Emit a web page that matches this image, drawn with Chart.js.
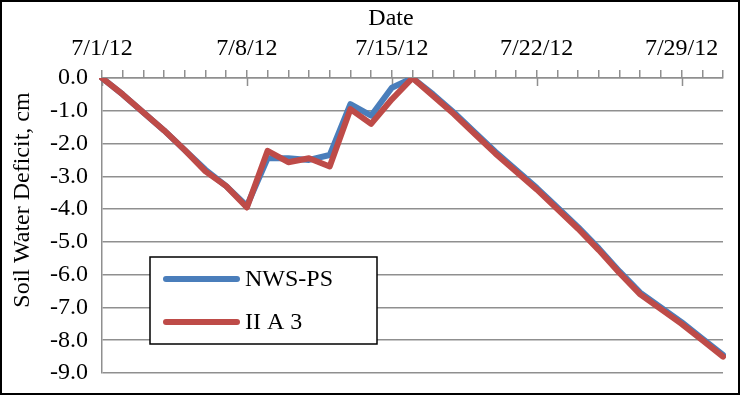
<!DOCTYPE html>
<html>
<head>
<meta charset="utf-8">
<script src="https://cdn.jsdelivr.net/npm/chart.js@4/dist/chart.umd.min.js"></script>
<style>
  html, body { margin: 0; padding: 0; background: #fff; }
  #wrap { width: 740px; height: 395px; position: relative; }
</style>
</head>
<body>
<div id="wrap"><canvas id="c" width="740" height="395"></canvas></div>
<script>
// ---- data ----
const dates = ['7/1/12','7/2/12','7/3/12','7/4/12','7/5/12','7/6/12','7/7/12','7/8/12','7/9/12','7/10/12',
  '7/11/12','7/12/12','7/13/12','7/14/12','7/15/12','7/16/12','7/17/12','7/18/12','7/19/12','7/20/12',
  '7/21/12','7/22/12','7/23/12','7/24/12','7/25/12','7/26/12','7/27/12','7/28/12','7/29/12','7/30/12','7/31/12'];
const labeledDates = ['7/1/12','7/8/12','7/15/12','7/22/12','7/29/12'];
const nwsPs = [0.0,-0.5,-1.05,-1.6,-2.2,-2.8,-3.3,-3.9,-2.45,-2.45,
  -2.5,-2.35,-0.8,-1.15,-0.3,0.0,-0.5,-1.05,-1.65,-2.25,
  -2.8,-3.35,-3.95,-4.55,-5.2,-5.9,-6.55,-7.0,-7.45,-7.95,-8.45];
const iiA3 = [0.0,-0.5,-1.05,-1.6,-2.2,-2.85,-3.3,-3.95,-2.22,-2.57,
  -2.45,-2.7,-0.95,-1.4,-0.65,0.0,-0.55,-1.1,-1.7,-2.3,
  -2.85,-3.4,-4.0,-4.6,-5.25,-5.95,-6.6,-7.05,-7.5,-8.0,-8.5];
const seriesNames = ['NWS-PS','II A 3'];
const xTitle = 'Date';
const yTitle = 'Soil Water Deficit, cm';

const FONT = '"Liberation Serif", "Times New Roman", serif';
const GRID = '#8f8f8f';

const decor = {
  id: 'decor',
  beforeDatasetsDraw(chart) {
    const ctx = chart.ctx, x = chart.scales.x, area = chart.chartArea;
    ctx.save();
    ctx.strokeStyle = GRID;
    ctx.lineWidth = 1.5;
    dates.forEach((d, i) => {
      if (labeledDates.includes(d)) {
        const px = Math.round(x.getPixelForValue(i)) + 0.5;
        ctx.beginPath();
        ctx.moveTo(px, area.top);
        ctx.lineTo(px, area.top + 8);
        ctx.stroke();
      }
    });
    ctx.restore();
  },
  afterDraw(chart) {
    const ctx = chart.ctx;
    ctx.save();
    // axis titles
    ctx.fillStyle = '#000';
    ctx.font = '24px ' + FONT;
    ctx.textAlign = 'center';
    ctx.textBaseline = 'middle';
    ctx.fillText(xTitle, 391, 19);
    ctx.save();
    ctx.translate(23, 200);
    ctx.rotate(-Math.PI / 2);
    ctx.fillText(yTitle, 0, 0);
    ctx.restore();
    // legend box
    const lx = 150, ly = 257, lw = 227, lh = 87;
    ctx.fillStyle = '#fff';
    ctx.fillRect(lx, ly, lw, lh);
    ctx.strokeStyle = '#000';
    ctx.lineWidth = 1.5;
    ctx.strokeRect(lx, ly, lw, lh);
    const rows = [279, 322];
    chart.data.datasets.forEach((ds, i) => {
      ctx.strokeStyle = ds.borderColor;
      ctx.lineWidth = 6;
      ctx.lineCap = 'round';
      ctx.beginPath();
      ctx.moveTo(166, rows[i]);
      ctx.lineTo(237, rows[i]);
      ctx.stroke();
      ctx.fillStyle = '#000';
      ctx.textAlign = 'left';
      ctx.font = '24px ' + FONT;
      ctx.fillText(ds.label, 245, rows[i] + 1);
    });
    // outer border
    ctx.strokeStyle = '#000';
    ctx.lineWidth = 2;
    ctx.strokeRect(1, 1, 738, 393);
    ctx.restore();
  }
};

new Chart(document.getElementById('c'), {
  type: 'line',
  data: {
    labels: dates,
    datasets: [
      { label: seriesNames[0], data: nwsPs, borderColor: '#4a7ebb', backgroundColor: '#4a7ebb',
        borderWidth: 6, pointRadius: 0, tension: 0, order: 2, borderJoinStyle: 'round', borderCapStyle: 'round' },
      { label: seriesNames[1], data: iiA3, borderColor: '#be4b48', backgroundColor: '#be4b48',
        borderWidth: 6, pointRadius: 0, tension: 0, order: 1, borderJoinStyle: 'round', borderCapStyle: 'round' }
    ]
  },
  options: {
    responsive: false,
    animation: false,
    devicePixelRatio: 1,
    layout: { padding: { top: 0, left: 0, right: 17, bottom: 22 } },
    plugins: { legend: { display: false }, tooltip: { enabled: false } },
    scales: {
      x: {
        type: 'category',
        position: 'top',
        offset: false,
        afterFit(s) { s.height = 78; s.paddingLeft = 0; s.paddingRight = 0; },
        grid: { drawOnChartArea: false, drawTicks: true, tickLength: 8, color: GRID, lineWidth: 1.5 },
        border: { display: true, color: GRID, width: 1.5 },
        ticks: {
          autoSkip: false, maxRotation: 0, minRotation: 0, padding: 7, color: '#000',
          font: { family: FONT, size: 24 },
          callback(v, i) { const d = dates[i]; return labeledDates.includes(d) ? d : ''; }
        }
      },
      y: {
        min: -9, max: 0,
        afterFit(s) { s.width = 102; s.paddingTop = 0; s.paddingBottom = 0; },
        grid: { drawTicks: false, color: GRID, lineWidth: 1.5 },
        border: { display: true, color: GRID, width: 1.5 },
        ticks: {
          stepSize: 1, padding: 14, color: '#000',
          font: { family: FONT, size: 24 },
          callback(v) { return Number(v).toFixed(1); }
        }
      }
    }
  },
  plugins: [decor]
});
</script>
</body>
</html>
